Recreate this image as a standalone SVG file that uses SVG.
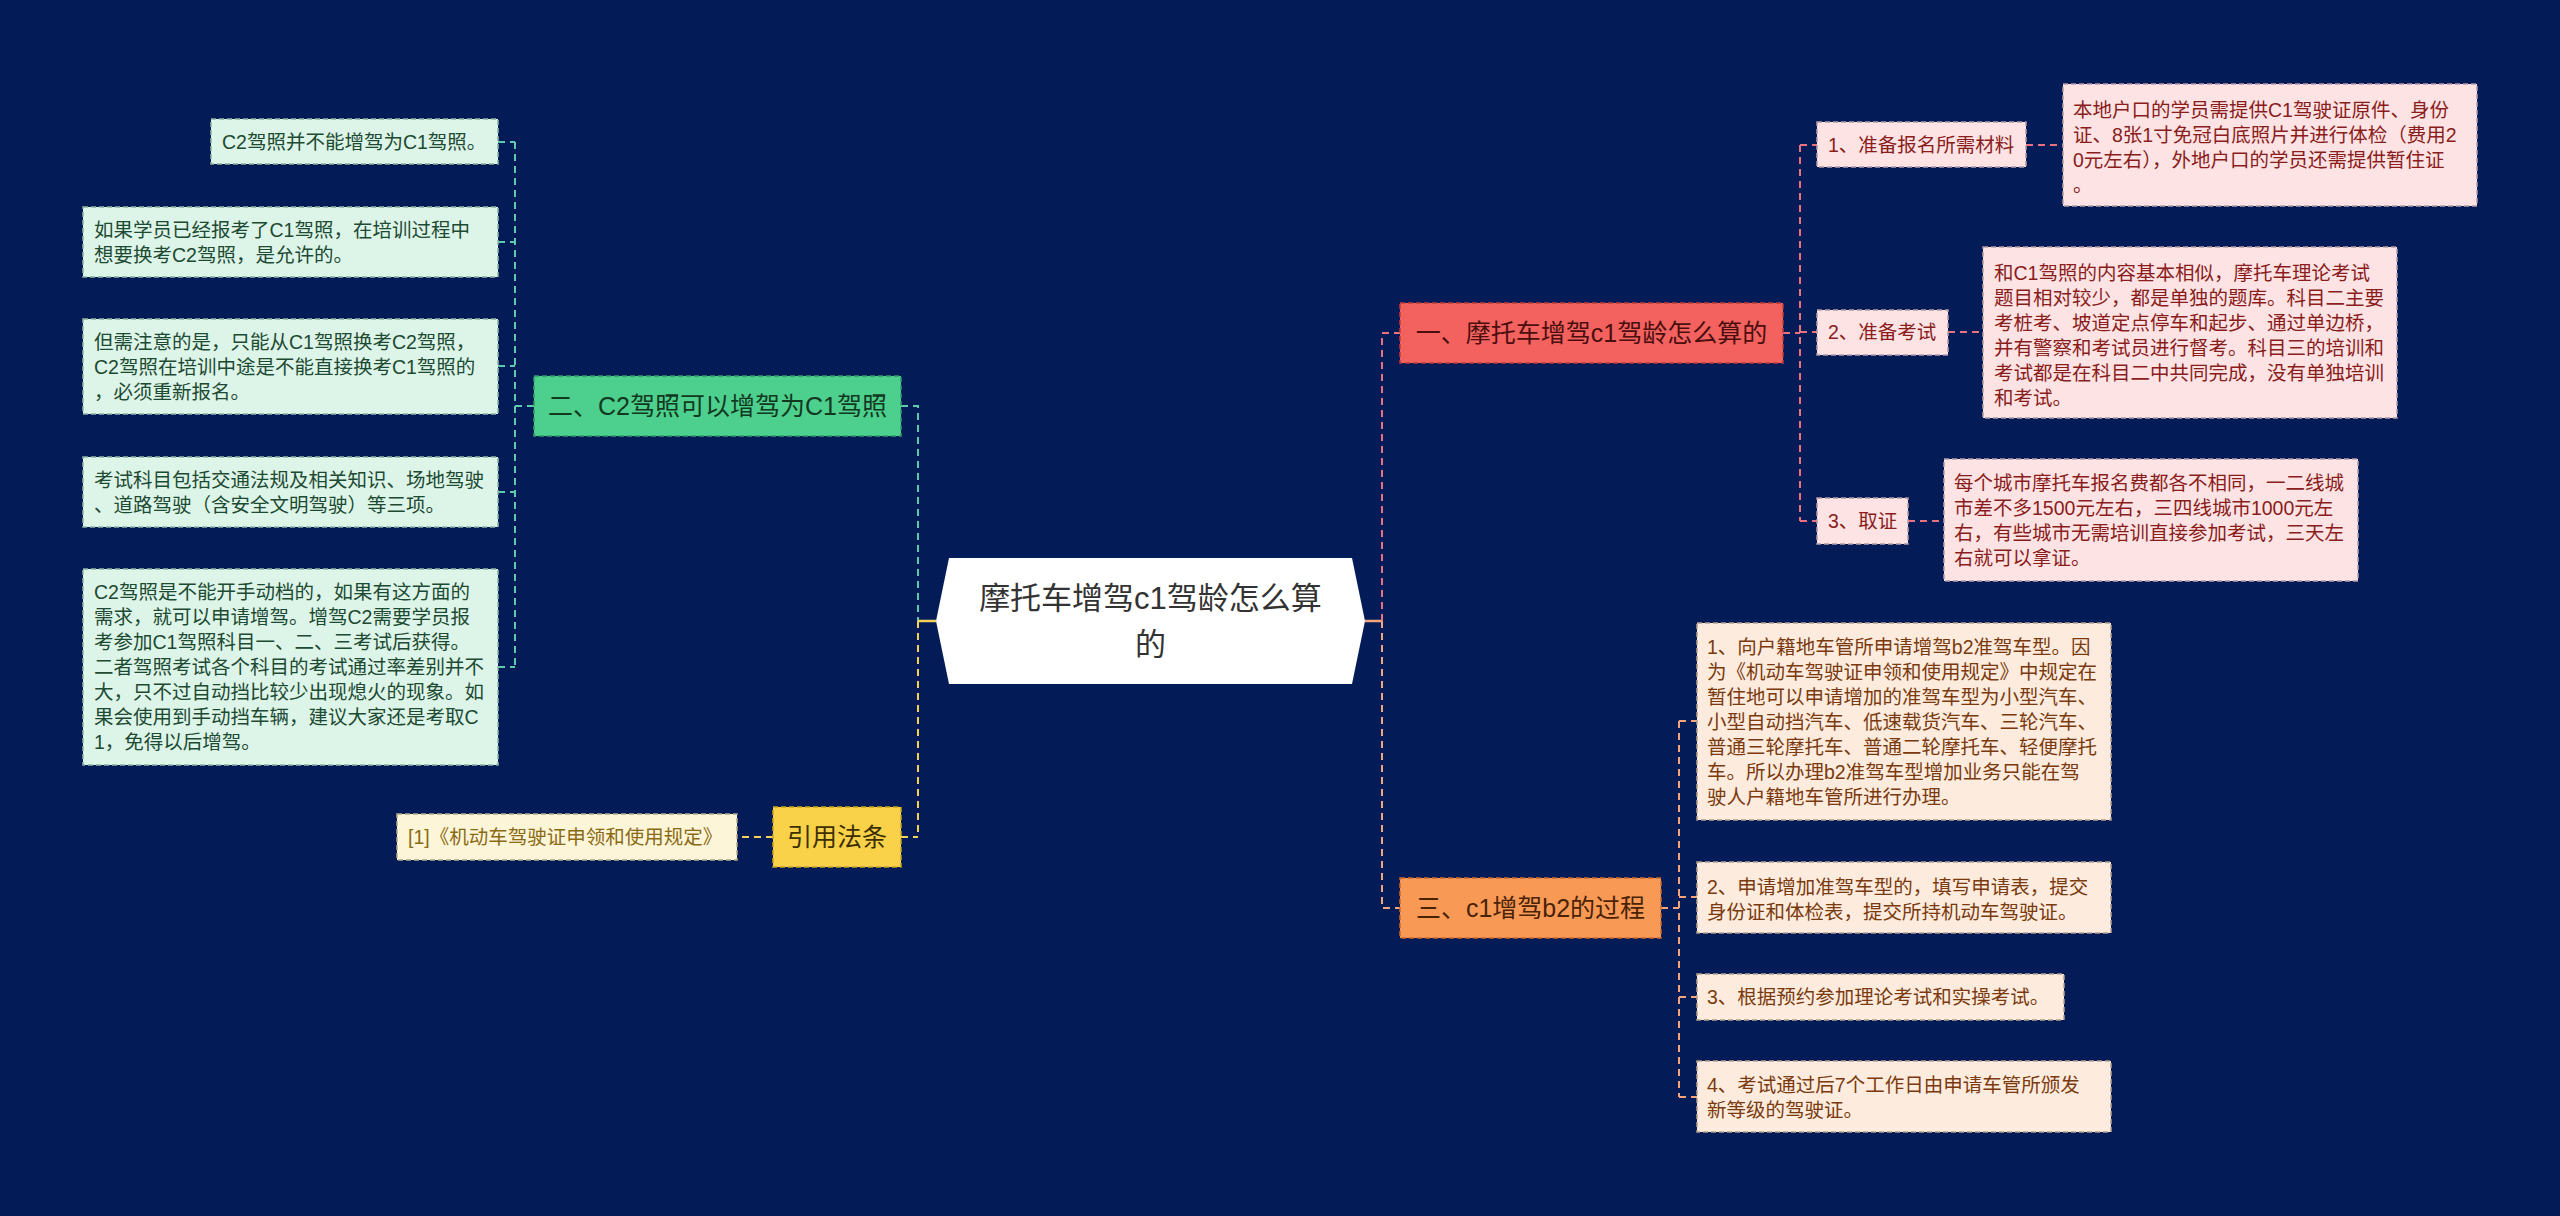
<svg xmlns="http://www.w3.org/2000/svg" width="2560" height="1216" viewBox="0 0 2560 1216">
<style>
text{font-family:"Liberation Sans","Noto Sans CJK SC",sans-serif;}
.c{fill:none;stroke-width:2;stroke-dasharray:7 5;}
.s{fill:none;stroke-width:2.5;}
.teal{stroke:#5ccbad;}
.yel{stroke:#f2d35a;}
.pink{stroke:#e9727e;}
.org{stroke:#f3a67c;}
.bd{stroke-width:1.5;stroke-dasharray:5 3;}
.lg{fill:#ddf4e8;stroke:#8fb3a2;}
.lp{fill:#fde3e3;stroke:#b79aa6;}
.lo{fill:#fdebdd;stroke:#b8a08e;}
.ly{fill:#fdf5d8;stroke:#b7ab86;}
.tg{fill:#1c4a32;font-size:19.5px;}
.tp{fill:#8a1c1c;font-size:19.5px;}
.to{fill:#7a3a0e;font-size:19.5px;}
.ty{fill:#8a6a12;font-size:19.5px;}
.n1{font-size:25px;text-anchor:middle;}
</style>
<rect width="2560" height="1216" fill="#031c57"/>
<g id="connectors">
<path class="c teal" d="M515 142V667M498 142H515M498 242H515M498 366H515M498 492H515M498 667H515M534 406H515M901 406H918V621"/>
<path class="c yel" d="M918 621V837M901 837H918M773 837H737"/>
<path class="s yel" d="M936 621H918"/>
<path class="s org" d="M1365 621H1382"/>
<path class="c pink" d="M1382 621V333H1400M1783 333H1800M1800 145V521M1800 145H1817M1800 332H1817M1800 521H1817M2026 145H2063M1948 332H1983M1908 521H1944"/>
<path class="c org" d="M1382 621V908H1400M1661 908H1679M1679 721V1097M1679 721H1697M1679 897H1697M1679 997H1697M1679 1097H1697"/>
</g>
<g id="root">
<polygon points="949,558 1352,558 1365,621 1352,684 949,684 936,621" fill="#ffffff"/>
<text x="1150.5" y="609" font-size="31" text-anchor="middle" fill="#333333">摩托车增驾c1驾龄怎么算</text>
<text x="1150.5" y="655" font-size="31" text-anchor="middle" fill="#333333">的</text>
</g>
<g id="n2">
<rect x="534" y="376" width="367" height="60" fill="#4dcf8d" stroke="#2f9a65" class="bd"/>
<text x="717.5" y="415" class="n1" fill="#12391f">二、C2驾照可以增驾为C1驾照</text>
</g>
<g id="n2-1">
<rect x="211" y="119" width="287" height="45" class="lg bd"/>
<text x="222" y="149" class="tg">C2驾照并不能增驾为C1驾照。</text>
</g>
<g id="n2-2">
<rect x="83" y="207" width="415" height="70" class="lg bd"/>
<text class="tg"><tspan x="94" y="237">如果学员已经报考了C1驾照，在培训过程中</tspan><tspan x="94" y="262">想要换考C2驾照，是允许的。</tspan></text>
</g>
<g id="n2-3">
<rect x="83" y="319" width="415" height="95" class="lg bd"/>
<text class="tg"><tspan x="94" y="349">但需注意的是，只能从C1驾照换考C2驾照，</tspan><tspan x="94" y="374">C2驾照在培训中途是不能直接换考C1驾照的</tspan><tspan x="94" y="399">，必须重新报名。</tspan></text>
</g>
<g id="n2-4">
<rect x="83" y="457" width="415" height="70" class="lg bd"/>
<text class="tg"><tspan x="94" y="487">考试科目包括交通法规及相关知识、场地驾驶</tspan><tspan x="94" y="512">、道路驾驶（含安全文明驾驶）等三项。</tspan></text>
</g>
<g id="n2-5">
<rect x="83" y="569" width="415" height="196" class="lg bd"/>
<text class="tg"><tspan x="94" y="599">C2驾照是不能开手动档的，如果有这方面的</tspan><tspan x="94" y="624">需求，就可以申请增驾。增驾C2需要学员报</tspan><tspan x="94" y="649">考参加C1驾照科目一、二、三考试后获得。</tspan><tspan x="94" y="674">二者驾照考试各个科目的考试通过率差别并不</tspan><tspan x="94" y="699">大，只不过自动挡比较少出现熄火的现象。如</tspan><tspan x="94" y="724">果会使用到手动挡车辆，建议大家还是考取C</tspan><tspan x="94" y="749">1，免得以后增驾。</tspan></text>
</g>
<g id="n4">
<rect x="773" y="807" width="128" height="60" fill="#f9d24a" stroke="#c9a21a" class="bd"/>
<text x="837" y="846" class="n1" fill="#3d3000">引用法条</text>
</g>
<g id="n4-1">
<rect x="397" y="814" width="340" height="46" class="ly bd"/>
<text x="408" y="844" class="ty">[1]《机动车驾驶证申领和使用规定》</text>
</g>
<g id="n1">
<rect x="1400" y="303" width="383" height="60" fill="#f3625f" stroke="#c03a3a" class="bd"/>
<text x="1591.5" y="342" class="n1" fill="#4a0e0e">一、摩托车增驾c1驾龄怎么算的</text>
</g>
<g id="n1-1">
<rect x="1817" y="122" width="209" height="45" class="lp bd"/>
<text x="1828" y="152" class="tp">1、准备报名所需材料</text>
</g>
<g id="n1-1-1">
<rect x="2063" y="84" width="414" height="122" class="lp bd"/>
<text class="tp"><tspan x="2073" y="117">本地户口的学员需提供C1驾驶证原件、身份</tspan><tspan x="2073" y="142">证、8张1寸免冠白底照片并进行体检（费用2</tspan><tspan x="2073" y="167">0元左右），外地户口的学员还需提供暂住证</tspan><tspan x="2073" y="192">。</tspan></text>
</g>
<g id="n1-2">
<rect x="1817" y="310" width="131" height="45" class="lp bd"/>
<text x="1828" y="339" class="tp">2、准备考试</text>
</g>
<g id="n1-2-1">
<rect x="1983" y="247" width="414" height="171" class="lp bd"/>
<text class="tp"><tspan x="1994" y="280">和C1驾照的内容基本相似，摩托车理论考试</tspan><tspan x="1994" y="305">题目相对较少，都是单独的题库。科目二主要</tspan><tspan x="1994" y="330">考桩考、坡道定点停车和起步、通过单边桥，</tspan><tspan x="1994" y="355">并有警察和考试员进行督考。科目三的培训和</tspan><tspan x="1994" y="380">考试都是在科目二中共同完成，没有单独培训</tspan><tspan x="1994" y="405">和考试。</tspan></text>
</g>
<g id="n1-3">
<rect x="1817" y="498" width="91" height="46" class="lp bd"/>
<text x="1828" y="528" class="tp">3、取证</text>
</g>
<g id="n1-3-1">
<rect x="1944" y="459" width="414" height="122" class="lp bd"/>
<text class="tp"><tspan x="1954" y="490">每个城市摩托车报名费都各不相同，一二线城</tspan><tspan x="1954" y="515">市差不多1500元左右，三四线城市1000元左</tspan><tspan x="1954" y="540">右，有些城市无需培训直接参加考试，三天左</tspan><tspan x="1954" y="565">右就可以拿证。</tspan></text>
</g>
<g id="n3">
<rect x="1400" y="878" width="261" height="60" fill="#f89a56" stroke="#c86a2a" class="bd"/>
<text x="1530.5" y="917" class="n1" fill="#4a2306">三、c1增驾b2的过程</text>
</g>
<g id="n3-1">
<rect x="1697" y="623" width="414" height="197" class="lo bd"/>
<text class="to"><tspan x="1707" y="654">1、向户籍地车管所申请增驾b2准驾车型。因</tspan><tspan x="1707" y="679">为《机动车驾驶证申领和使用规定》中规定在</tspan><tspan x="1707" y="704">暂住地可以申请增加的准驾车型为小型汽车、</tspan><tspan x="1707" y="729">小型自动挡汽车、低速载货汽车、三轮汽车、</tspan><tspan x="1707" y="754">普通三轮摩托车、普通二轮摩托车、轻便摩托</tspan><tspan x="1707" y="779">车。所以办理b2准驾车型增加业务只能在驾</tspan><tspan x="1707" y="804">驶人户籍地车管所进行办理。</tspan></text>
</g>
<g id="n3-2">
<rect x="1697" y="862" width="414" height="71" class="lo bd"/>
<text class="to"><tspan x="1707" y="894">2、申请增加准驾车型的，填写申请表，提交</tspan><tspan x="1707" y="919">身份证和体检表，提交所持机动车驾驶证。</tspan></text>
</g>
<g id="n3-3">
<rect x="1697" y="974" width="367" height="46" class="lo bd"/>
<text x="1707" y="1004" class="to">3、根据预约参加理论考试和实操考试。</text>
</g>
<g id="n3-4">
<rect x="1697" y="1061" width="414" height="71" class="lo bd"/>
<text class="to"><tspan x="1707" y="1092">4、考试通过后7个工作日由申请车管所颁发</tspan><tspan x="1707" y="1117">新等级的驾驶证。</tspan></text>
</g>
</svg>
